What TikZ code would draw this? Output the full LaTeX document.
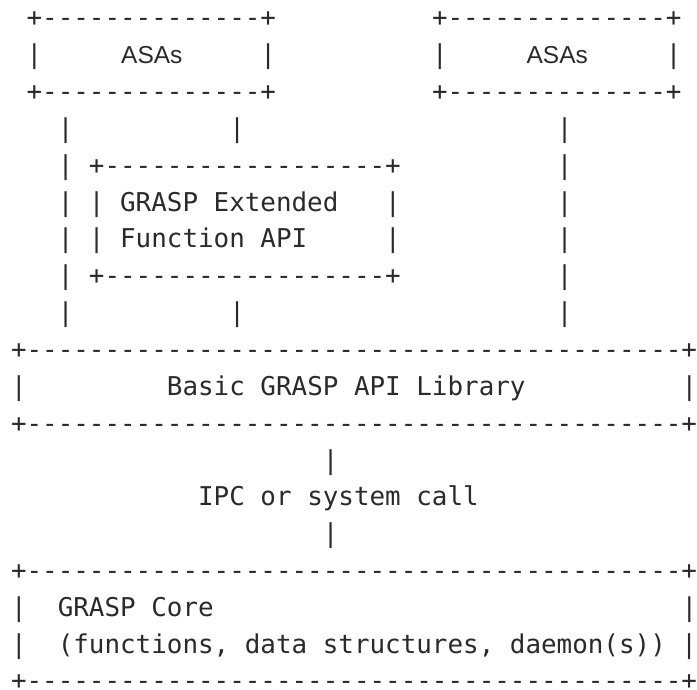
\documentclass[tikz,border=0pt]{standalone}
\usepackage{fontspec}
\setmonofont{DejaVu Sans Mono}
\newfontfamily\asafont{Liberation Sans}
\definecolor{ink}{HTML}{2A2A2A}
\newcommand\dashes[1]{\foreach\i in {1,...,#1}{-}}
\begin{document}
\begin{tikzpicture}[x=1pt,y=1pt,
  asciiline/.style={inner sep=0pt, outer sep=0pt, anchor=base west, text=ink,
    font=\ttfamily\fontsize{25.9pt}{30pt}\selectfont},
  asalabel/.style={inner sep=0pt, outer sep=0pt, anchor=base west, text=ink,
    font=\asafont\fontsize{24.5pt}{28pt}\selectfont}]
\useasboundingbox (0,0) rectangle (697,-690);
% top ASA boxes
\node[asciiline] (l1) at (26.59,-26.8) {+\dashes{14}+~~~~~~~~~~+\dashes{14}+};
\node[asciiline] (l2) at (26.59,-63.65) {|~~~~~~~~~~~~~~|~~~~~~~~~~|~~~~~~~~~~~~~~|};
\node[asalabel] (asa1) at (121.2,-63.65) {ASAs};
\node[asalabel] (asa2) at (526.6,-63.65) {ASAs};
\node[asciiline] (l3) at (26.59,-100.5) {+\dashes{14}+~~~~~~~~~~+\dashes{14}+};
% connectors and extended API box
\node[asciiline] (l4) at (57.78,-137.35) {|~~~~~~~~~~|~~~~~~~~~~~~~~~~~~~~|};
\node[asciiline] (l5) at (57.78,-174.2) {|~+\dashes{18}+~~~~~~~~~~|};
\node[asciiline] (l6) at (57.78,-211.05) {|~|~GRASP~Extended~~~|~~~~~~~~~~|};
\node[asciiline] (l7) at (57.78,-247.9) {|~|~Function~API~~~~~|~~~~~~~~~~|};
\node[asciiline] (l8) at (57.78,-284.75) {|~+\dashes{18}+~~~~~~~~~~|};
\node[asciiline] (l9) at (57.78,-321.6) {|~~~~~~~~~~|~~~~~~~~~~~~~~~~~~~~|};
% basic library box
\node[asciiline] (l10) at (11,-358.45) {+\dashes{42}+};
\node[asciiline] (l11) at (11,-395.3) {|~~~~~~~~~Basic~GRASP~API~Library~~~~~~~~~~|};
\node[asciiline] (l12) at (11,-432.15) {+\dashes{42}+};
% IPC link
\node[asciiline] (l13) at (322.86,-469) {|};
\node[asciiline] (l14) at (198.12,-505.85) {IPC~or~system~call};
\node[asciiline] (l15) at (322.86,-542.7) {|};
% core box
\node[asciiline] (l16) at (11,-579.55) {+\dashes{42}+};
\node[asciiline] (l17) at (11,-616.4) {|~~GRASP~Core~~~~~~~~~~~~~~~~~~~~~~~~~~~~~~|};
\node[asciiline] (l18) at (11,-653.25) {|~~(functions,~data~structures,~daemon(s))~|};
\node[asciiline] (l19) at (11,-689.9) {+\dashes{42}+};
\end{tikzpicture}
\end{document}
